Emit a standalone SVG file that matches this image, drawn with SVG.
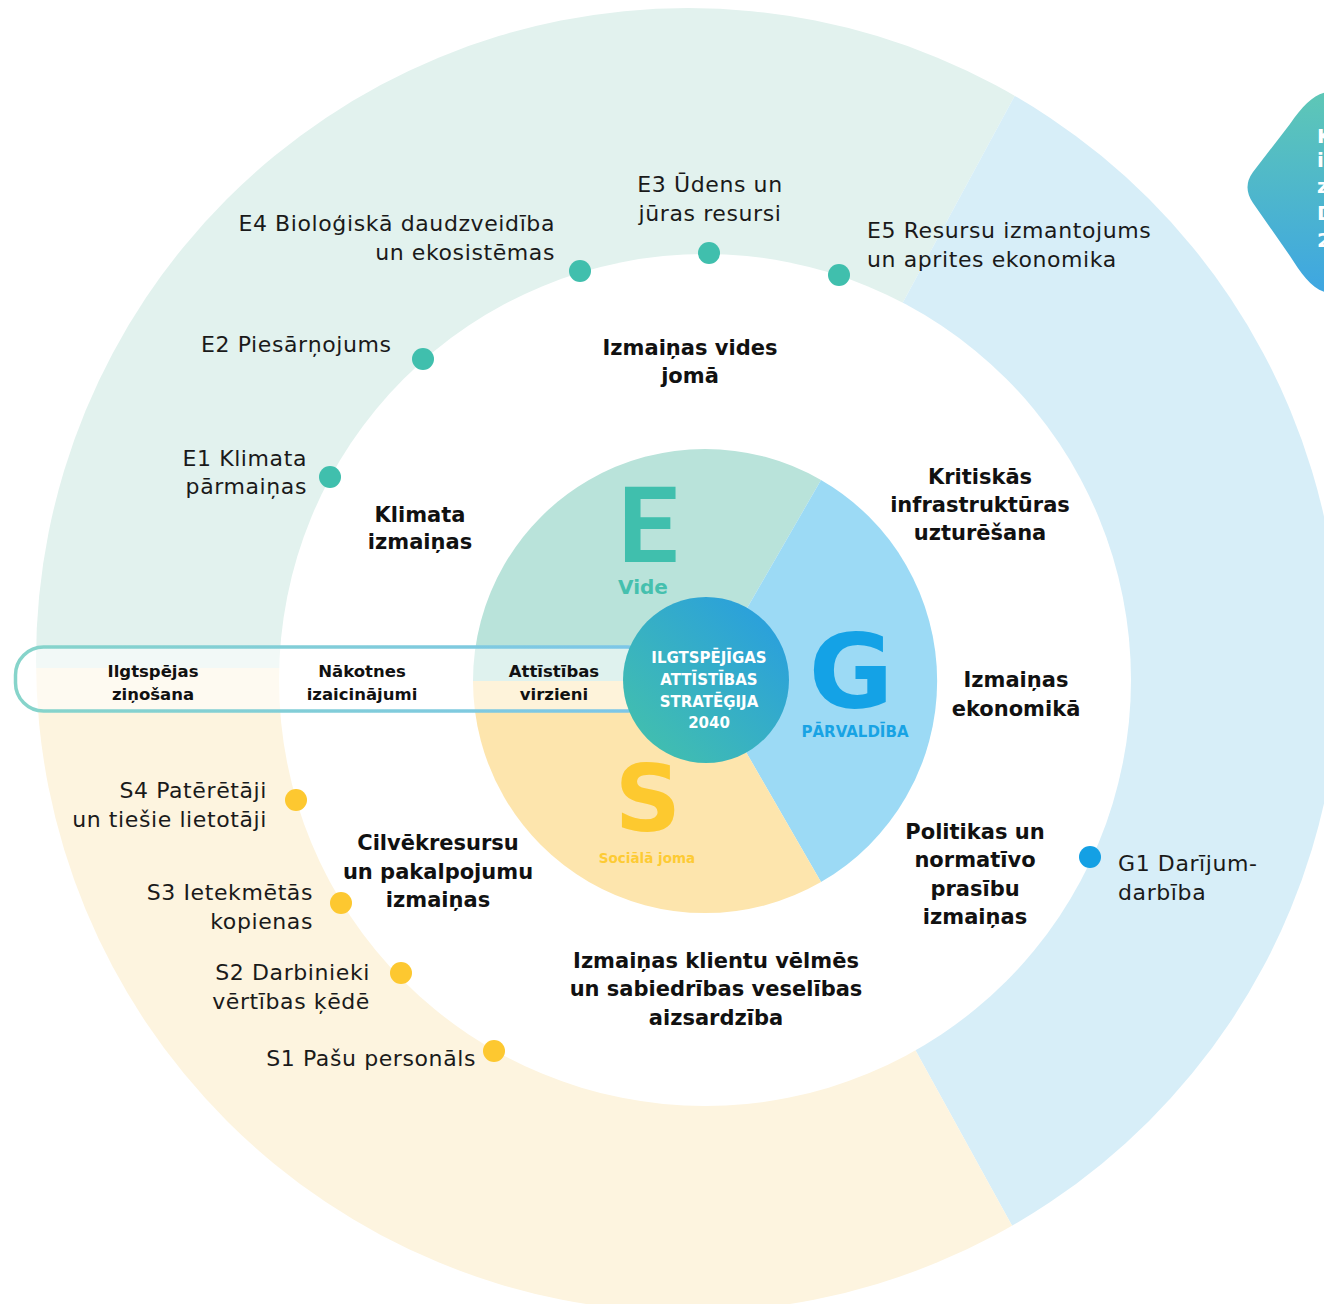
<svg xmlns="http://www.w3.org/2000/svg" width="1324" height="1304" viewBox="0 0 1324 1304">
<defs>
<clipPath id="outerClip"><circle cx="688" cy="660" r="652"/></clipPath>
<linearGradient id="coreGrad" x1="0" y1="1" x2="1" y2="0">
<stop offset="0" stop-color="#45c3a8"/>
<stop offset="1" stop-color="#279be3"/>
</linearGradient>
<linearGradient id="bandGrad" gradientUnits="userSpaceOnUse" x1="15" y1="0" x2="640" y2="0">
<stop offset="0" stop-color="#86d4ca"/>
<stop offset="1" stop-color="#7cc6e8"/>
</linearGradient>
<linearGradient id="tagGrad" x1="0" y1="0" x2="0" y2="1">
<stop offset="0" stop-color="#5ec7b6"/>
<stop offset="1" stop-color="#3ea6e2"/>
</linearGradient>
<style>
.lbl{font-family:"DejaVu Sans","Noto Sans",sans-serif;font-size:22px;letter-spacing:0.6px;fill:#1a1a1a;}
.bld{font-family:"DejaVu Sans","Noto Sans",sans-serif;font-size:21px;font-weight:700;fill:#111;}
.band{font-family:"DejaVu Sans","Noto Sans",sans-serif;font-size:16.5px;font-weight:700;fill:#111;text-anchor:middle;}
.core{font-family:"DejaVu Sans","Noto Sans",sans-serif;font-size:15px;font-weight:700;fill:#fff;text-anchor:middle;}
.end{text-anchor:end;}
.mid{text-anchor:middle;}
.dotE{fill:#40bfad;}
.dotS{fill:#fdc830;}
.dotG{fill:#14a0e4;}
</style>
</defs>

<g id="outer-ring" clip-path="url(#outerClip)">
<polygon points="0,668 705,668 1072,-10 0,-10" fill="#e2f2ee"/>
<polygon points="705,668 1072,-10 1400,-10 1400,1400 1108,1400" fill="#d7eef8"/>
<polygon points="0,668 705,668 1108,1400 0,1400" fill="#fdf4df"/>
</g>
<circle id="white-ring" cx="705" cy="680" r="426" fill="#ffffff"/>

<g id="pie">
<path id="sector-E" d="M705,681 L473,681 A232,232 0 0 1 821,480 Z" fill="#b9e3da"/>
<path id="sector-G" d="M705,681 L821,480 A232,232 0 0 1 821,882 Z" fill="#9cdaf5"/>
<path id="sector-S" d="M705,681 L821,882 A232,232 0 0 1 473,681 Z" fill="#fde5ad"/>
</g>

<g id="tag-topright">
<path d="M1330,92 C1316,92 1304,104 1290,124 L1253,172 Q1242,187 1253,203 L1290,256 C1302,275 1314,292 1330,293 Z" fill="url(#tagGrad)"/>
<text x="1317" y="143" class="core" style="text-anchor:start;font-size:20px">K</text>
<text x="1317" y="167" class="core" style="text-anchor:start;font-size:20px">i</text>
<text x="1317" y="193" class="core" style="text-anchor:start;font-size:20px">z</text>
<text x="1317" y="220" class="core" style="text-anchor:start;font-size:20px">D</text>
<text x="1317" y="247" class="core" style="text-anchor:start;font-size:20px">2</text>
</g>

<g id="band">
<rect x="15.5" y="647" width="640" height="64" rx="28" fill="#ffffff" fill-opacity="0.55" stroke="url(#bandGrad)" stroke-width="3.5"/>
<text class="band" x="153" y="677">Ilgtspējas</text>
<text class="band" x="153" y="700">ziņošana</text>
<text class="band" x="362" y="677">Nākotnes</text>
<text class="band" x="362" y="700">izaicinājumi</text>
<text class="band" x="554" y="677">Attīstības</text>
<text class="band" x="554" y="700">virzieni</text>
</g>

<g id="pillar-E">
<text x="648" y="562" font-family="Roboto, 'DejaVu Sans', sans-serif" font-weight="700" font-size="106" fill="#40bfad" text-anchor="middle">E</text>
<text x="643" y="594" font-family="'DejaVu Sans', sans-serif" font-weight="700" font-size="20" fill="#45c0ae" text-anchor="middle">Vide</text>
</g>
<g id="pillar-G">
<text x="851" y="708" font-family="'DejaVu Sans', sans-serif" font-weight="700" font-size="103" fill="#14a2e6" text-anchor="middle">G</text>
<text x="855" y="737" font-family="'DejaVu Sans', sans-serif" font-weight="700" font-size="15" fill="#18a3e4" text-anchor="middle">PĀRVALDĪBA</text>
</g>
<g id="pillar-S">
<text x="648" y="831" font-family="'DejaVu Sans', sans-serif" font-weight="700" font-size="92" fill="#fdc92f" text-anchor="middle">S</text>
<text x="647" y="863" font-family="'DejaVu Sans', sans-serif" font-weight="700" font-size="13.5" fill="#fdcb34" text-anchor="middle">Sociālā joma</text>
</g>

<g id="core">
<circle cx="706" cy="680" r="83" fill="url(#coreGrad)"/>
<text class="core" x="709" y="663">ILGTSPĒJĪGAS</text>
<text class="core" x="709" y="685">ATTĪSTĪBAS</text>
<text class="core" x="709" y="707">STRATĒĢIJA</text>
<text class="core" x="709" y="728">2040</text>
</g>

<g id="themes">
<text class="bld mid" x="690" y="355">Izmaiņas vides</text>
<text class="bld mid" x="690" y="383">jomā</text>
<text class="bld mid" x="420" y="522">Klimata</text>
<text class="bld mid" x="420" y="549">izmaiņas</text>
<text class="bld mid" x="980" y="484">Kritiskās</text>
<text class="bld mid" x="980" y="512">infrastruktūras</text>
<text class="bld mid" x="980" y="540">uzturēšana</text>
<text class="bld mid" x="1016" y="687">Izmaiņas</text>
<text class="bld mid" x="1016" y="716">ekonomikā</text>
<text class="bld mid" x="975" y="839">Politikas un</text>
<text class="bld mid" x="975" y="867">normatīvo</text>
<text class="bld mid" x="975" y="896">prasību</text>
<text class="bld mid" x="975" y="924">izmaiņas</text>
<text class="bld mid" x="438" y="850">Cilvēkresursu</text>
<text class="bld mid" x="438" y="879">un pakalpojumu</text>
<text class="bld mid" x="438" y="907">izmaiņas</text>
<text class="bld mid" x="716" y="968">Izmaiņas klientu vēlmēs</text>
<text class="bld mid" x="716" y="996">un sabiedrības veselības</text>
<text class="bld mid" x="716" y="1025">aizsardzība</text>
</g>

<g id="node-E1"><circle class="dotE" cx="330" cy="477" r="11"/><text class="lbl end" x="307" y="466">E1 Klimata</text><text class="lbl end" x="307" y="494">pārmaiņas</text></g>
<g id="node-E2"><circle class="dotE" cx="423" cy="359" r="11"/><text class="lbl" x="201" y="352">E2 Piesārņojums</text></g>
<g id="node-E3"><circle class="dotE" cx="709" cy="253" r="11"/><text class="lbl mid" x="710" y="192">E3 Ūdens un</text><text class="lbl mid" x="710" y="221">jūras resursi</text></g>
<g id="node-E4"><circle class="dotE" cx="580" cy="271" r="11"/><text class="lbl end" x="555" y="231">E4 Bioloģiskā daudzveidība</text><text class="lbl end" x="555" y="260">un ekosistēmas</text></g>
<g id="node-E5"><circle class="dotE" cx="839" cy="275" r="11"/><text class="lbl" x="867" y="238">E5 Resursu izmantojums</text><text class="lbl" x="867" y="267">un aprites ekonomika</text></g>
<g id="node-G1"><circle class="dotG" cx="1090" cy="857" r="11"/><text class="lbl" x="1118" y="871">G1 Darījum-</text><text class="lbl" x="1118" y="900">darbība</text></g>
<g id="node-S4"><circle class="dotS" cx="296" cy="800" r="11"/><text class="lbl end" x="267" y="798">S4 Patērētāji</text><text class="lbl end" x="267" y="827">un tiešie lietotāji</text></g>
<g id="node-S3"><circle class="dotS" cx="341" cy="903" r="11"/><text class="lbl end" x="313" y="900">S3 Ietekmētās</text><text class="lbl end" x="313" y="929">kopienas</text></g>
<g id="node-S2"><circle class="dotS" cx="401" cy="973" r="11"/><text class="lbl end" x="370" y="980">S2 Darbinieki</text><text class="lbl end" x="370" y="1009">vērtības ķēdē</text></g>
<g id="node-S1"><circle class="dotS" cx="494" cy="1051" r="11"/><text class="lbl end" x="476" y="1066">S1 Pašu personāls</text></g>

<g id="connectors"></g>
</svg>
